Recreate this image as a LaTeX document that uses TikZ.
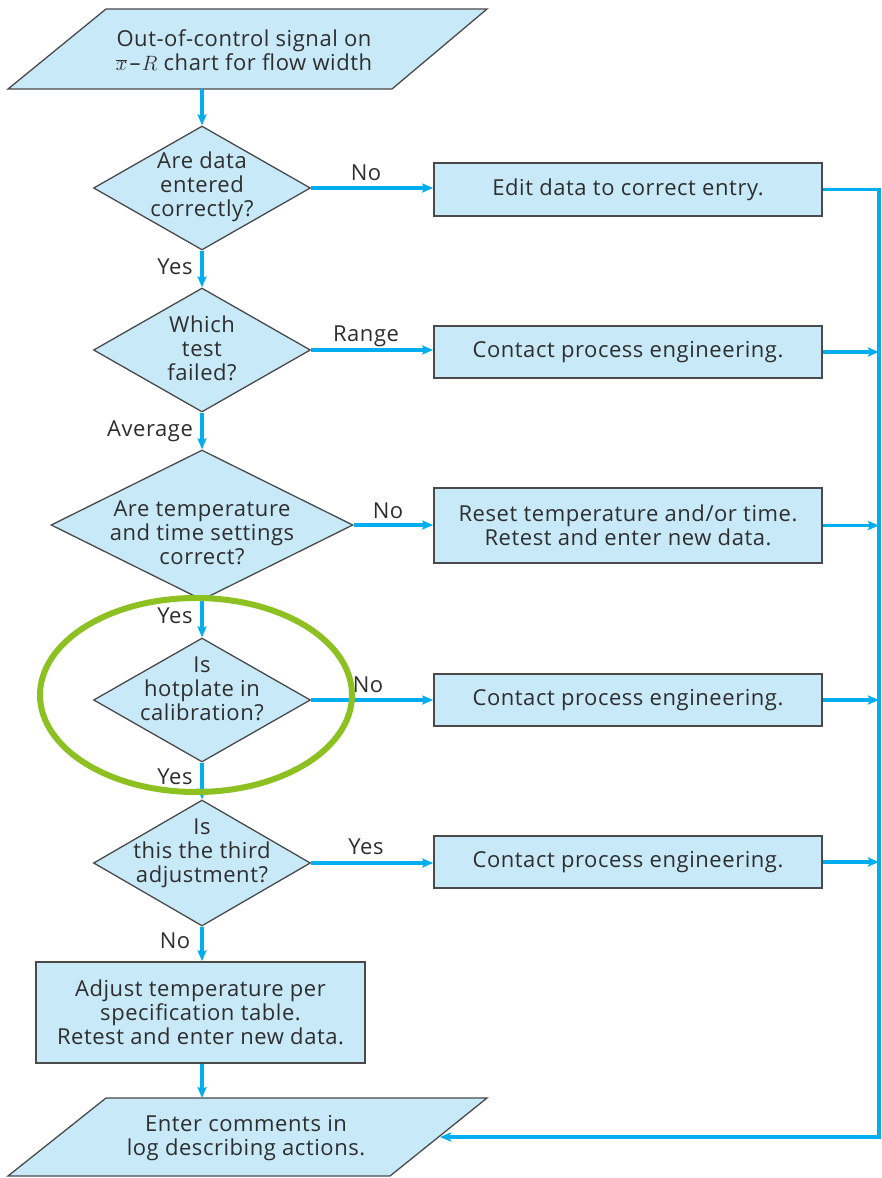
\documentclass[tikz,border=0pt]{standalone}
\usepackage{fontspec}
\setmainfont{Open Sans}[LetterSpace=2.5]
\usetikzlibrary{arrows.meta,shapes.geometric}
\definecolor{boxfill}{HTML}{C8E9F8}
\definecolor{flow}{HTML}{00AEEF}
\definecolor{edgec}{HTML}{4A4A4A}
\definecolor{txt}{HTML}{2E2E2E}
\definecolor{ring}{HTML}{8DC021}
\begin{document}
\begin{tikzpicture}[x=1pt,y=-1pt,
  every node/.style={font=\fontsize{22}{24}\selectfont, text=txt},
  procbox/.style={draw=edgec, line width=1.6pt, fill=boxfill, minimum width=388, minimum height=52, align=center, inner sep=0pt},
  decbox/.style={shape=diamond, draw=edgec, line width=1.3pt, fill=boxfill, minimum width=217, minimum height=124, inner sep=0pt},
  dectext/.style={align=center, inner sep=0pt},
  iobox/.style={draw=edgec, line width=1.3pt, fill=boxfill, line join=miter},
  flowarrow/.style={draw=flow, line width=3.2pt, -{Stealth[length=11pt,width=9pt,inset=2pt]}},
  lbl/.style={inner sep=0pt}
]
\fill[white] (0,0) rectangle (881,1178);
\useasboundingbox (0,0) rectangle (881,1178);

% top input/output
\draw[iobox] (106,9) -- (487,9) -- (392,89) -- (8,89) -- cycle;
\node[align=center, inner sep=0pt] (p1) at (244,50) {Out-of-control signal on\\$\overline{x}\mkern2mu$–$\mkern1mu R$ chart for flow width};
\coordinate (p1out) at (202,89);

% decisions
\node[decbox] (d1) at (202,188) {};
\node[dectext] (d1t) at (202,187) {Are data\\entered\\correctly?};
\node[decbox] (d2) at (202,350) {};
\node[dectext] (d2t) at (202,348) {Which\\test\\failed?};
\node[decbox, minimum width=302, minimum height=150] (d3) at (202,525) {};
\node[dectext] (d3t) at (202,533) {Are temperature\\and time settings\\correct?};
\node[decbox] (d4) at (202,700) {};
\node[dectext] (d4t) at (202,689) {Is\\hotplate in\\calibration?};
\node[decbox, minimum height=126] (d5) at (202,863) {};
\node[dectext] (d5t) at (202,853) {Is\\this the third\\adjustment?};

% process boxes
\node[procbox, minimum height=53] (b1) at (628,189.5) {Edit data to correct entry.};
\node[procbox] (b2) at (628,352) {Contact process engineering.};
\node[procbox, minimum height=75] (b3) at (628,525.5) {Reset temperature and/or time.\\Retest and enter new data.};
\node[procbox] (b4) at (628,700) {Contact process engineering.};
\node[procbox] (b5) at (628,862) {Contact process engineering.};
\node[procbox, minimum width=329, minimum height=101] (b6) at (200.5,1012.5) {Adjust temperature per\\specification table.\\Retest and enter new data.};

% bottom input/output
\draw[iobox] (106,1098) -- (487,1098) -- (390,1176) -- (8,1176) -- cycle;
\node[align=center, inner sep=0pt] (p2) at (246,1138) {Enter comments in\\log describing actions.};
\coordinate (p2in) at (202,1098);
\coordinate (p2edge) at (440,1137);

% bus on the right
\coordinate (busTop) at (879,189.5);
\coordinate (busBot) at (879,1137);

% main flow
\draw[flowarrow] (p1out) -- (d1.north);
\draw[flowarrow] (d1.south) -- (d2.north);
\draw[flowarrow] (d2.south) -- (d3.north);
\draw[flowarrow] (d3.south) -- (d4.north);
\draw[flowarrow] (d4.south) -- (d5.north);
\draw[flowarrow] (d5.south) -- (d5.south |- b6.north);
\draw[flowarrow] (b6.south -| p2in) -- (p2in);

% side branches
\draw[flowarrow] (d1.east) -- (d1.east -| b1.west);
\draw[flowarrow] (d2.east) -- (d2.east -| b2.west);
\draw[flowarrow] (d3.east) -- (d3.east -| b3.west);
\draw[flowarrow] (d4.east) -- (d4.east -| b4.west);
\draw[flowarrow] (d5.east) -- (d5.east -| b5.west);

\draw[flowarrow, line join=miter] (b1.east) -- (busTop) -- (busBot) -- (p2edge);
\draw[flowarrow] (b2.east) -- (b2.east -| busTop);
\draw[flowarrow] (b3.east) -- (b3.east -| busTop);
\draw[flowarrow] (b4.east) -- (b4.east -| busTop);
\draw[flowarrow] (b5.east) -- (b5.east -| busTop);

% labels
\node[lbl] (l1) at (366,173) {No};
\node[lbl] (l2) at (366,336) {Range};
\node[lbl] (l3) at (388,511) {No};
\node[lbl] (l4) at (368,685) {No};
\node[lbl] (l5) at (366,847) {Yes};
\node[lbl] (l6) at (175,267) {Yes};
\node[lbl] (l7) at (150,431) {Average};
\node[lbl] (l8) at (175,616) {Yes};
\node[lbl] (l9) at (175,777) {Yes};
\node[lbl] (l10) at (175,941) {No};

% highlight ring
\node[shape=ellipse, draw=ring, line width=6pt, minimum width=312, minimum height=194, inner sep=0pt] (hl) at (196,695) {};
\end{tikzpicture}
\end{document}
